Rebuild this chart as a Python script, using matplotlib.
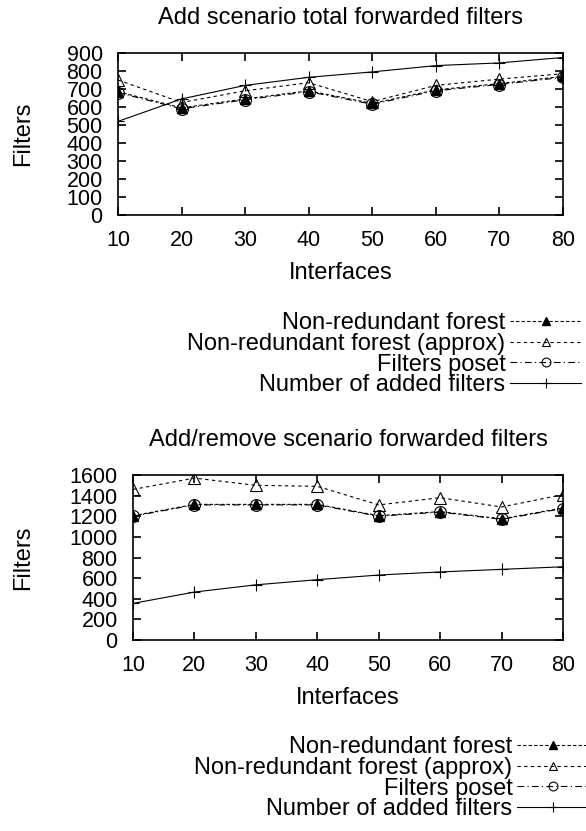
import matplotlib
matplotlib.use('Agg')
import matplotlib.pyplot as plt

plt.rcParams['font.family'] = ['Liberation Sans', 'DejaVu Sans']

interfaces = [10, 20, 30, 40, 50, 60, 70, 80]

# Add scenario
add_nr_forest = [685, 595, 645, 690, 620, 695, 730, 770]
add_nr_approx = [750, 625, 690, 735, 630, 720, 755, 785]
add_poset     = [680, 590, 640, 685, 615, 690, 725, 765]
add_added     = [520, 645, 720, 765, 795, 830, 845, 875]

# Add/remove scenario
rem_nr_forest = [1205, 1315, 1315, 1315, 1205, 1245, 1175, 1280]
rem_nr_approx = [1460, 1570, 1500, 1490, 1310, 1380, 1290, 1410]
rem_poset     = [1200, 1310, 1310, 1310, 1200, 1240, 1170, 1275]
rem_added     = [355, 465, 535, 585, 630, 660, 685, 710]

labels = ['Non-redundant forest', 'Non-redundant forest (approx)',
          'Filters poset', 'Number of added filters']

W, H = 586, 831
fs = 17
tick_fs = 15.5

fig = plt.figure(figsize=(W / 100, H / 100), dpi=100)


def px_rect(left, top, right, bottom):
    return [left / W, 1 - bottom / H, (right - left) / W, (bottom - top) / H]


def draw(ax, nr, approx, poset, added, title, ymax, ystep, legend_top,
         legend_right, ylab_x):
    ax.plot(interfaces, nr, color='black', lw=0.8, ls=(0, (3, 2)),
            marker='^', ms=7.5, mfc='black', mec='black', label=labels[0])
    ax.plot(interfaces, approx, color='black', lw=0.8, ls=(0, (3, 3)),
            marker='^', ms=8, mfc='none', mec='black', mew=0.8, label=labels[1])
    ax.plot(interfaces, poset, color='black', lw=0.8, ls=(0, (6, 3, 1, 3)),
            marker='o', ms=8.5, mfc='none', mec='black', mew=0.8, label=labels[2])
    ax.plot(interfaces, added, color='black', lw=0.8, ls='-',
            marker='+', ms=9, mew=0.8, label=labels[3])

    ax.set_xlim(10, 80)
    ax.set_ylim(0, ymax)
    ax.set_xticks(interfaces)
    ax.set_yticks(range(0, ymax + 1, ystep))
    ax.tick_params(direction='in', length=6, width=1.2, top=True, right=True,
                   labelsize=tick_fs, pad=11)
    ax.tick_params(axis='y', pad=11)
    for s in ax.spines.values():
        s.set_linewidth(1.2)
    ax.set_title(title, fontsize=fs, pad=21)
    ax.set_xlabel('Interfaces', fontsize=fs, labelpad=8)
    ax.set_ylabel('Filters', fontsize=fs)
    ax.yaxis.set_label_coords(ylab_x, 0.5)

    leg = ax.legend(loc='upper right',
                    bbox_to_anchor=(legend_right / W, 1 - legend_top / H),
                    bbox_transform=fig.transFigure, frameon=False,
                    markerfirst=False, fontsize=fs, handlelength=3.0,
                    handletextpad=0.2, labelspacing=-0.05, borderpad=0,
                    borderaxespad=0, markerscale=0.75)
    return leg


ax1 = fig.add_axes(px_rect(118, 53, 563, 215))
draw(ax1, add_nr_forest, add_nr_approx, add_poset, add_added,
     'Add scenario total forwarded filters', 900, 100, 312, 581,
     (34 - 118) / 445)

ax2 = fig.add_axes(px_rect(133, 475, 563, 640))
draw(ax2, rem_nr_forest, rem_nr_approx, rem_poset, rem_added,
     'Add/remove scenario forwarded filters', 1600, 200, 736, 588,
     (34 - 133) / 430)

fig.savefig('out.png', dpi=100)
